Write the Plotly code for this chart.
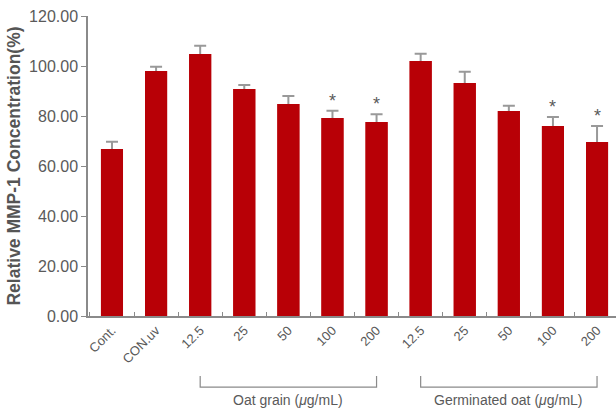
import plotly.graph_objects as go

# Treatment groups along the x axis
categories = ["Cont.", "CON.uv", "12.5", "25", "50", "100", "200",
              "12.5 ", "25 ", "50 ", "100 ", "200 "]
tick_text = ["Cont.", "CON.uv", "12.5", "25", "50", "100", "200",
             "12.5", "25", "50", "100", "200"]
# Relative MMP-1 concentration (%) and SD
values = [66.8, 98.0, 104.8, 90.8, 84.8, 79.2, 77.6, 102.0, 93.2, 82.0, 76.0, 69.6]
errors = [2.9, 1.7, 3.3, 1.6, 3.2, 2.9, 3.1, 2.9, 4.5, 2.1, 3.6, 6.4]
significant = [False, False, False, False, False, True, True,
               False, False, False, True, True]
y_ticks = [0, 20, 40, 60, 80, 100, 120]
groups = [("Oat grain (<i>μ</i>g/mL)", 2, 6), ("Germinated oat (<i>μ</i>g/mL)", 7, 11)]

GREY = "#8a8a8a"
TEXT = "#5a5a5a"
RED = "#b80006"

fig = go.Figure()
# first layer carries the SD whiskers; the identical bars drawn over it hide the lower half
fig.add_trace(go.Bar(
    x=categories, y=values, width=0.5,
    marker=dict(color=RED, line=dict(width=0)),
    error_y=dict(type="data", array=errors, color="#999999", thickness=2, width=6),
    showlegend=False, hoverinfo="skip",
))
fig.add_trace(go.Bar(
    x=categories, y=values, width=0.5,
    marker=dict(color=RED, line=dict(width=0)),
    showlegend=False,
))

# significance markers above the error caps
for i, (v, e, s) in enumerate(zip(values, errors, significant)):
    if s:
        fig.add_annotation(x=i, y=v + e, text="*", showarrow=False,
                           yanchor="bottom", yshift=-2,
                           font=dict(size=18, color=TEXT, family="Liberation Sans"))

# group brackets and labels below the category labels
for label, a, b in groups:
    fig.add_shape(type="path", xref="x", yref="paper",
                  path=f"M {a} -0.2 L {a} -0.237 L {b} -0.237 L {b} -0.2",
                  line=dict(color=GREY, width=1.2))
    fig.add_annotation(x=(a + b) / 2, y=-0.28, xref="x", yref="paper",
                       text=label, showarrow=False, yanchor="middle",
                       font=dict(size=14, color=TEXT, family="Liberation Sans"))

fig.update_layout(
    width=616, height=412,
    margin=dict(l=88, r=0, t=16, b=96),
    plot_bgcolor="white", paper_bgcolor="white",
    barmode="overlay", bargap=0.5,
    xaxis=dict(
        type="category", range=[-0.544, 11.43],
        tickmode="array", tickvals=categories, ticktext=tick_text,
        tickangle=-45, tickson="boundaries", ticks="inside", ticklen=4,
        tickcolor=GREY, showline=True, linecolor=GREY, linewidth=1.5,
        tickfont=dict(size=13, color=TEXT, family="Liberation Sans"),
        showgrid=False,
    ),
    yaxis=dict(
        range=[0, 120], tickvals=y_ticks,
        ticktext=[f"{t:.2f}" for t in y_ticks],
        ticks="outside", ticklen=5, tickcolor=GREY,
        showline=True, linecolor=GREY, linewidth=1.5,
        showgrid=False, zeroline=False,
        tickfont=dict(size=16, color=TEXT, family="Liberation Sans"),
        title=dict(text="<b>Relative MMP-1 Concentration(%)</b>", standoff=4,
                   font=dict(size=17.5, color="#555555", family="Liberation Sans")),
    ),
)

fig.write_html("out.html")
